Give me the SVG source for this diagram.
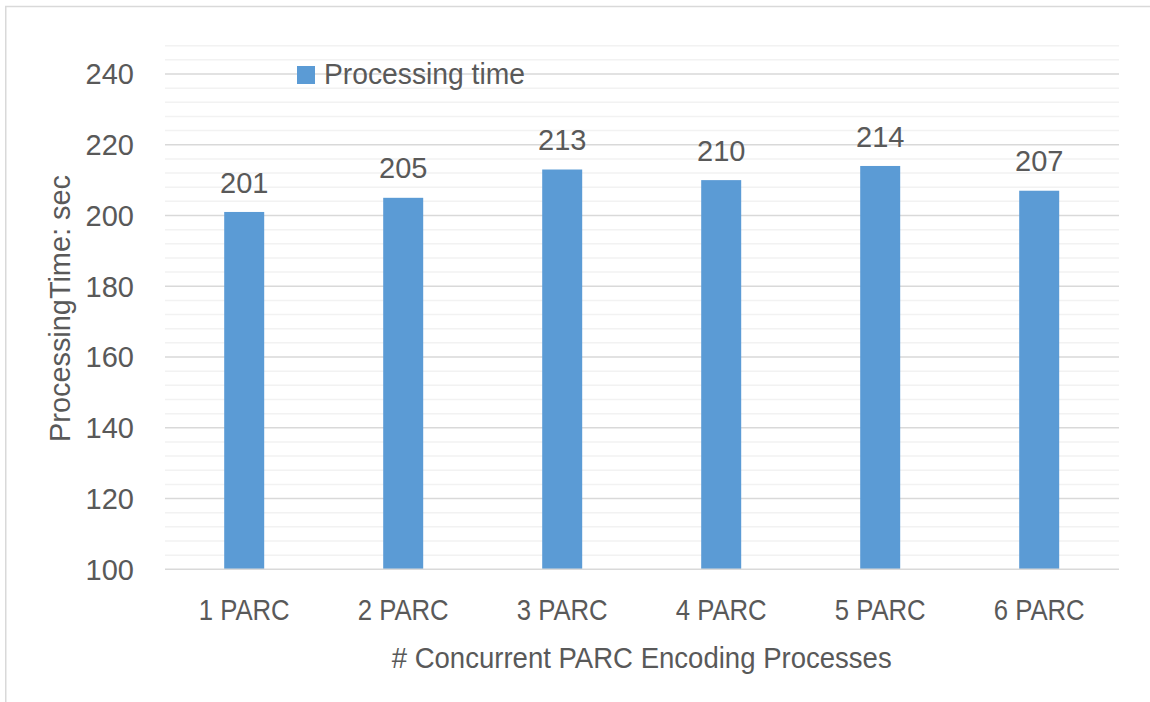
<svg xmlns="http://www.w3.org/2000/svg" width="1150" height="702" viewBox="0 0 1150 702">
<style>
.t{font-family:"Liberation Sans",Arial,sans-serif;font-size:29px;fill:#595959}
.bar{fill:#5B9BD5}
.minor{stroke:#f2f2f2;stroke-width:1.5;fill:none}
.major{stroke:#d9d9d9;stroke-width:1.5;fill:none}
</style>
<rect x="0" y="0" width="1150" height="702" fill="#ffffff"/>
<rect x="5.75" y="6.5" width="1200" height="800" fill="none" stroke="#d9d9d9" stroke-width="1.5"/>
<g id="grid">
<path class="minor" d="M165 555.15H1119M165 541H1119M165 526.85H1119M165 512.7H1119M165 484.39H1119M165 470.24H1119M165 456.08H1119M165 441.93H1119M165 413.63H1119M165 399.48H1119M165 385.32H1119M165 371.17H1119M165 342.87H1119M165 328.72H1119M165 314.56H1119M165 300.41H1119M165 272.11H1119M165 257.96H1119M165 243.8H1119M165 229.65H1119M165 201.35H1119M165 187.2H1119M165 173.04H1119M165 158.89H1119M165 130.59H1119M165 116.44H1119M165 102.28H1119M165 88.13H1119M165 59.83H1119M165 45.68H1119"/>
<path class="major" d="M165 498.54H1119M165 427.78H1119M165 357.02H1119M165 286.26H1119M165 215.5H1119M165 144.74H1119M165 73.98H1119"/>
</g>
<g id="y-labels" class="t" text-anchor="end">
<text x="134" y="84.3">240</text>
<text x="134" y="155">220</text>
<text x="134" y="225.8">200</text>
<text x="134" y="296.5">180</text>
<text x="134" y="367.3">160</text>
<text x="134" y="438">140</text>
<text x="134" y="508.8">120</text>
<text x="134" y="579.6">100</text>
</g>
<g id="bar-1"><rect class="bar" x="224.2" y="211.96" width="40" height="357.34"/><text class="t" x="244.2" y="192.5" text-anchor="middle">201</text></g>
<g id="bar-2"><rect class="bar" x="383.2" y="197.81" width="40" height="371.49"/><text class="t" x="403.2" y="178.3" text-anchor="middle">205</text></g>
<g id="bar-3"><rect class="bar" x="542.2" y="169.51" width="40" height="399.79"/><text class="t" x="562.2" y="150" text-anchor="middle">213</text></g>
<g id="bar-4"><rect class="bar" x="701.2" y="180.12" width="40" height="389.18"/><text class="t" x="721.2" y="160.6" text-anchor="middle">210</text></g>
<g id="bar-5"><rect class="bar" x="860.2" y="165.97" width="40" height="403.33"/><text class="t" x="880.2" y="146.5" text-anchor="middle">214</text></g>
<g id="bar-6"><rect class="bar" x="1019.2" y="190.73" width="40" height="378.57"/><text class="t" x="1039.2" y="171.2" text-anchor="middle">207</text></g>
<path class="major" d="M165 569.3H1119"/>
<g id="x-labels" class="t" text-anchor="middle">
<text x="244.2" y="620" textLength="91" lengthAdjust="spacingAndGlyphs">1 PARC</text>
<text x="403.2" y="620" textLength="91" lengthAdjust="spacingAndGlyphs">2 PARC</text>
<text x="562.2" y="620" textLength="91" lengthAdjust="spacingAndGlyphs">3 PARC</text>
<text x="721.2" y="620" textLength="91" lengthAdjust="spacingAndGlyphs">4 PARC</text>
<text x="880.2" y="620" textLength="91" lengthAdjust="spacingAndGlyphs">5 PARC</text>
<text x="1039.2" y="620" textLength="91" lengthAdjust="spacingAndGlyphs">6 PARC</text>
</g>
<g id="x-title"><text class="t" x="641.7" y="668" text-anchor="middle" textLength="500" lengthAdjust="spacingAndGlyphs"># Concurrent PARC Encoding Processes</text></g>
<g id="y-title"><text class="t" transform="translate(69.5 308.5) rotate(-90)" text-anchor="middle" textLength="267" lengthAdjust="spacingAndGlyphs">ProcessingTime: sec</text></g>
<g id="legend">
<rect class="bar" x="297" y="66" width="18" height="18"/>
<text class="t" x="324" y="84" textLength="201" lengthAdjust="spacingAndGlyphs">Processing time</text>
</g>
</svg>
